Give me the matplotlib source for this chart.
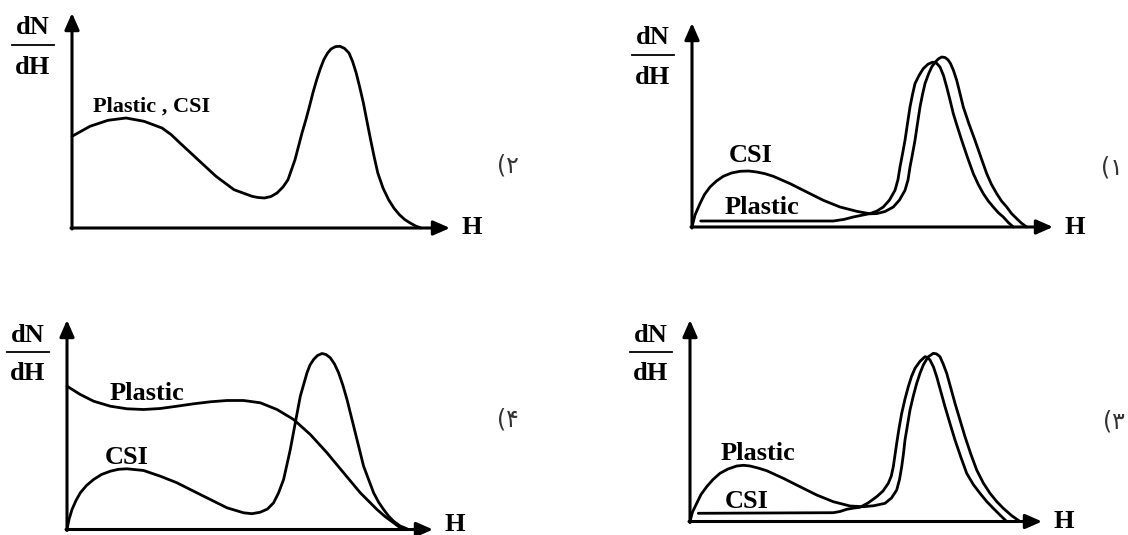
import matplotlib
matplotlib.use("Agg")
import matplotlib.pyplot as plt

# figure is 1128x535 px; every panel is an axes where 1 data unit = 1 px
W, H = 1128, 535

# ---- panel ۲ (top left): one curve for Plastic and CsI
p1_h = [0, 18, 36, 54, 72, 90, 99, 108, 126, 144, 162, 180, 186, 192.5, 199, 205, 211, 216, 223,
        230, 233.8, 237.5, 241, 244.7, 248.2, 251.8, 255.5, 259, 263.5, 268, 272.5, 277, 280.6,
        284.2, 287.8, 291.4, 295, 298.6, 302.2, 305.8, 311, 316.6, 322, 327.4, 332.8, 338.2,
        343.6, 349]
p1_n = [91.7, 101.7, 107.7, 110, 106.7, 100, 93.5, 85, 68.3, 51.7, 38.3, 31.7, 30.5, 30, 31.5,
        35, 41, 48.3, 68.3, 95, 108, 121.7, 135.5, 148.3, 159, 168.3, 174.8, 179, 181.4, 181.7,
        179.6, 175, 166.5, 155, 140.5, 125, 106.5, 88.3, 71, 55, 40, 28.3, 19.8, 13.3, 8.4, 5,
        2, 0]

# ---- panel ۱ (top right)
p2_csi_h = [0, 3, 8, 12.5, 18, 24.5, 31.3, 39.5, 48, 56.5, 64.7, 73, 81.3, 98, 114.7, 131.3, 148,
            164.7, 178, 184.7, 193, 201.3, 207.5, 213, 216, 218, 220.5, 223, 225.5, 228, 230.5,
            233, 236.5, 239.7, 243, 246.5, 249.7, 253, 256, 258.5, 261.5, 264.7, 268, 271.3, 277,
            283, 289, 294.7, 299.5, 304.7, 309.5, 314.7, 319.5, 324.7, 329.5, 334.7]
p2_csi_n = [0, 12, 23.4, 32.5, 40, 46, 50.7, 54, 55.7, 56, 55, 53.3, 50.7, 43.4, 35, 26.7, 20,
            15.7, 13.2, 13.4, 15.5, 20, 27, 36.7, 47, 60, 73, 86.7, 103.5, 120, 132.5, 143.4, 153,
            160, 164.7, 168.2, 170, 169.5, 167.2, 163.5, 156.5, 146.7, 133.5, 120, 103, 86.7,
            69.5, 53.4, 42.5, 33.4, 26, 20, 13.5, 8.4, 3.8, 0]
p2_pla_h = [8.7, 141.3, 152, 161.3, 170, 178, 185, 191.3, 197.5, 203, 206, 208, 210.5, 213, 215.5,
            218, 220.5, 223, 227, 231.3, 236, 240.5, 244.5, 248, 251.5, 254.7, 258, 261.3, 265.5,
            269.7, 275.5, 281.3, 286.3, 291.3, 296.3, 301.3, 306.3, 311.3, 316.3, 321.3]
p2_pla_n = [6, 6, 7.6, 10, 11.8, 13.4, 16, 20, 27, 36.7, 47.5, 60, 73, 86.7, 103.5, 120, 132.5,
            143.4, 151.5, 158.4, 162.8, 164.8, 163.8, 160, 151.5, 140, 127, 113.4, 99.8, 86.7,
            69.5, 53.4, 42.5, 33.4, 26, 20, 14.3, 10, 4.5, 0]

# ---- panel ۳ (bottom right)
p3_pla_h = [0, 2.5, 6.7, 11, 16.7, 23, 30, 38, 46.7, 53.5, 60, 68, 76.7, 93.3, 110, 126.7, 143.3,
            160, 173.3, 184, 195, 201.5, 206.7, 209.5, 211.7, 213.5, 215, 217.5, 220, 223.3, 226.7,
            230, 233.3, 238, 243.3, 246.5, 250, 253.2, 256.7, 260.8, 265, 270, 275, 280.8, 286.7,
            293.3, 300, 306.7, 313.3, 321.5, 330]
p3_pla_n = [0, 9.5, 18.2, 27, 34.8, 42, 48.2, 52.5, 55.5, 56.2, 55.5, 53.5, 50.8, 43.2, 34.8, 26.5,
            19.8, 15.5, 14.8, 15.8, 18.2, 23.5, 31.5, 42, 54.8, 68, 81.5, 96.5, 111.5, 125.5, 138.2,
            148.2, 156.5, 164.5, 168.2, 167.6, 164.8, 157.5, 148.2, 133.5, 118.2, 101.5, 84.8,
            67.5, 51.5, 38.5, 28.2, 20, 13.2, 6, 0]
p3_csi_h = [8.3, 143.3, 150, 156.7, 163.5, 170, 178, 186.7, 193, 198.3, 201.3, 203.3, 205, 206.7,
            209, 211.7, 215, 218.3, 221.5, 225, 230, 235, 237.5, 240, 243.5, 246.7, 250.8, 255,
            260, 265, 270.8, 276.7, 283.3, 290, 296.7, 303.3, 310, 316.7]
p3_csi_n = [8.2, 8.8, 10, 12.2, 13.4, 14.2, 18.5, 24.8, 30.5, 38.2, 45.5, 54.8, 66.5, 78.2, 93,
            108.2, 122.5, 134.8, 145, 153.2, 160.2, 164.8, 164, 161.5, 154.5, 144.8, 130, 114.8,
            98, 81.5, 64.5, 48.2, 37, 28.2, 20, 13.2, 6.5, 0]

# ---- panel ۴ (bottom left)
p4_pla_h = [0, 13.3, 26.6, 43.3, 60, 76.6, 93.3, 110, 126.6, 143.3, 160, 176.6, 193.3, 210,
            226.6, 243.3, 260, 276.6, 293.3, 310, 318, 326.6, 331.5, 336.6]
p4_pla_n = [143.3, 135, 128.3, 123.3, 120.7, 120, 121, 123.3, 125.7, 127.7, 129, 129, 126.7, 120,
            110, 95, 76.7, 56.7, 36.7, 20, 13, 6.7, 3, 0]
p4_csi_h = [0, 2, 5, 9, 13.3, 19.5, 26.6, 34.5, 43.3, 51.5, 60, 76.6, 93.3, 110, 126.6, 143.3,
            160, 176.6, 185, 193.3, 200.5, 206.6, 211.5, 216.6, 223.3, 228.3, 233.3, 240, 243,
            246.6, 250.5, 255, 259, 263.3, 267.5, 271.6, 275.8, 280, 288.3, 296.6, 306.6, 311.5,
            316.6, 321.5, 326.6, 333, 340]
p4_csi_n = [0, 10, 20, 29, 36.7, 44, 50, 55, 58.3, 60.2, 60.7, 59, 53.3, 46.7, 38.3, 30, 21.7,
            16.7, 15.8, 17.3, 20.5, 26.7, 36.5, 50, 80, 106.7, 133.3, 156.7, 164.5, 170, 174, 176,
            175, 171.7, 165.5, 156.7, 144.5, 130, 96.7, 63.3, 36.7, 27.5, 20, 13.5, 8.3, 3.6, 0.7]

SERIF = ["Liberation Serif", "DejaVu Serif"]
fig = plt.figure(figsize=(W / 100, H / 100), dpi=100)


def panel(ox, oy, top, tip, ylab_x, tag, tag_xy, h_dy=0):
    """axes whose origin sits at pixel (ox, oy), y axis up to top, x axis to tip"""
    w, h = tip - ox, oy - top
    ax = fig.add_axes([ox / W, (H - oy) / H, w / W, h / H])
    ax.set_xlim(0, w)
    ax.set_ylim(0, h)
    ax.axis("off")
    arrow = dict(arrowstyle="-|>,head_length=0.5,head_width=0.22", lw=2.2, color="black",
                 mutation_scale=20, shrinkA=0, shrinkB=0)
    ax.annotate("", xy=(w, 0), xytext=(-1, 0), arrowprops=arrow, annotation_clip=False)
    ax.annotate("", xy=(0, h), xytext=(0, -1), arrowprops=arrow, annotation_clip=False)
    # dN/dH fraction left of the y axis
    fx = ylab_x - ox
    ax.text(fx, h - 15, "dN", ha="center", va="center", fontsize=19, fontweight="bold",
            family=SERIF, clip_on=False)
    ax.plot([fx - 21, fx + 21], [h - 32, h - 32], color="black", lw=1.3, clip_on=False)
    ax.text(fx, h - 54, "dH", ha="center", va="center", fontsize=19, fontweight="bold",
            family=SERIF, clip_on=False)
    ax.text(w + 22, h_dy, "H", ha="center", va="center", fontsize=19, fontweight="bold",
            family=SERIF, clip_on=False)
    ax.text(tag_xy[0] - ox, oy - tag_xy[1], tag, ha="center", va="center", fontsize=17,
            color="#333333", family=["DejaVu Sans"], clip_on=False)
    return ax


def curve(ax, h, n):
    ax.plot(h, n, color="black", lw=2.0, solid_joinstyle="round", solid_capstyle="round",
            clip_on=False)


def label(ax, x, y, s, size=19):
    ax.text(x, y, s, ha="center", va="center", fontsize=size, fontweight="bold",
            family=SERIF, clip_on=False)


ax1 = panel(72, 228, 13, 450, 33, "(۲", (508, 166))
curve(ax1, p1_h, p1_n)
label(ax1, 80, 121, "Plastic , CSI", size=16)

ax2 = panel(692, 227, 23, 1053, 653, "(۱", (1112, 167))
curve(ax2, p2_csi_h, p2_csi_n)
curve(ax2, p2_pla_h, p2_pla_n)
label(ax2, 59, 72, "CSI")
label(ax2, 70, 20, "Plastic")

ax3 = panel(690, 521.5, 320, 1042, 651, "(۳", (1114, 421))
curve(ax3, p3_pla_h, p3_pla_n)
curve(ax3, p3_csi_h, p3_csi_n)
label(ax3, 68, 67.5, "Plastic")
label(ax3, 56.7, 20.5, "CSI")

ax4 = panel(67, 529.5, 320, 433, 28, "(۴", (508, 420), h_dy=5)
curve(ax4, p4_pla_h, p4_pla_n)
curve(ax4, p4_csi_h, p4_csi_n)
label(ax4, 80, 136, "Plastic")
label(ax4, 60, 71.5, "CSI")

fig.savefig("out.png", dpi=100, facecolor="white")
